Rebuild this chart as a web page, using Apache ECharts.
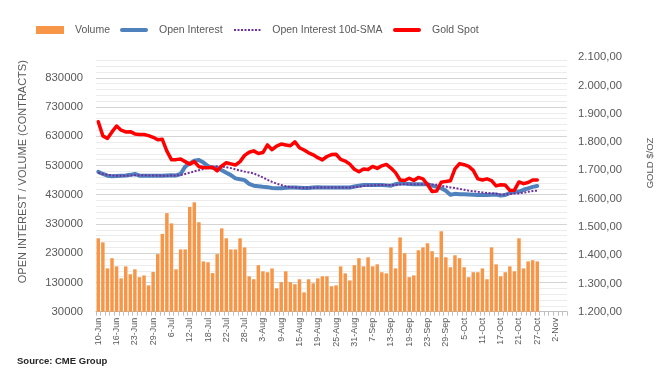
<!DOCTYPE html>
<html>
<head>
<meta charset="utf-8">
<script src="https://cdn.jsdelivr.net/npm/echarts@6/dist/echarts.min.js"></script>
<style>
html,body{margin:0;padding:0;background:#fff;}
#chart{width:667px;height:383px;}
</style>
</head>
<body>
<div id="chart"></div>
<script>
// Categories: trading days 2022
const categories = [
  '10-Jun','13-Jun','14-Jun','15-Jun','16-Jun','17-Jun','21-Jun','22-Jun','23-Jun','24-Jun','27-Jun','28-Jun','29-Jun','30-Jun',
  '1-Jul','5-Jul','6-Jul','7-Jul','8-Jul','11-Jul','12-Jul','13-Jul','14-Jul','15-Jul','18-Jul','19-Jul','20-Jul','21-Jul','22-Jul','25-Jul','26-Jul','27-Jul','28-Jul','29-Jul',
  '1-Aug','2-Aug','3-Aug','4-Aug','5-Aug','8-Aug','9-Aug','10-Aug','11-Aug','12-Aug','15-Aug','16-Aug','17-Aug','18-Aug','19-Aug','22-Aug','23-Aug','24-Aug','25-Aug','26-Aug','29-Aug','30-Aug','31-Aug',
  '1-Sep','2-Sep','6-Sep','7-Sep','8-Sep','9-Sep','12-Sep','13-Sep','14-Sep','15-Sep','16-Sep','19-Sep','20-Sep','21-Sep','22-Sep','23-Sep','26-Sep','27-Sep','28-Sep','29-Sep','30-Sep',
  '3-Oct','4-Oct','5-Oct','6-Oct','7-Oct','10-Oct','11-Oct','12-Oct','13-Oct','14-Oct','17-Oct','18-Oct','19-Oct','20-Oct','21-Oct','24-Oct','25-Oct','26-Oct','27-Oct','28-Oct','31-Oct',
  '1-Nov','2-Nov','3-Nov','4-Nov'
];

const volume = [
  281000,267000,178000,213000,185000,144000,185000,158000,175000,148000,
  154000,120000,166000,227000,296000,367000,332000,175000,243000,243000,
  388000,404000,336000,202000,199000,162000,227000,315000,281000,243000,
  243000,281000,250000,151000,141000,189000,168000,165000,178000,110000,
  131000,168000,131000,124000,141000,96000,141000,127000,144000,151000,
  151000,117000,120000,185000,161000,137000,189000,213000,185000,216000,
  185000,192000,165000,161000,250000,178000,284000,230000,148000,154000,
  240000,250000,264000,237000,216000,305000,216000,182000,223000,213000,
  182000,148000,165000,165000,178000,141000,250000,192000,151000,165000,
  185000,168000,281000,178000,202000,206000,202000
];

const openInterest = [
  508000,501000,495000,493000,494000,495000,496000,498000,501000,495000,
  495000,495000,495000,495000,495000,496000,497000,496000,501000,526000,
  537000,546000,549000,540000,528000,522000,522000,514000,505000,497000,
  486000,483000,480000,467000,461000,459000,457000,456000,453000,452000,
  452000,454000,455000,455000,454000,453000,453000,455000,456000,455000,
  455000,455000,455000,455000,455000,455000,458000,461000,463000,463000,
  463000,463000,463000,462000,461000,466000,469000,468000,467000,466000,
  466000,466000,466000,461000,457000,452000,444000,430000,433000,432000,
  432000,431000,430000,429000,429000,429000,430000,431000,427000,429000,
  436000,440000,441000,447000,452000,457000,460000
];

const openInterestSMA = [
  505000,501000,498000,496000,495000,495000,495000,496000,497000,497000,
  497000,496000,496000,496000,495000,495000,496000,496000,497000,501000,
  505000,510000,514000,518000,522000,526000,527000,526000,524000,521000,
  517000,513000,509000,506000,503000,496000,489000,481000,474000,468000,
  463000,459000,456000,455000,454000,454000,454000,454000,455000,455000,
  455000,455000,455000,455000,455000,455000,456000,458000,460000,462000,
  462000,463000,463000,463000,463000,464000,465000,466000,466000,466000,
  466000,466000,466000,465000,464000,460000,458000,455000,453000,450000,
  447000,444000,442000,440000,438000,436000,435000,433000,431000,431000,
  432000,434000,435000,437000,440000,443000,444000
];

const goldSpot = [
  1872,1822,1813,1836,1857,1842,1836,1837,1829,1827,
  1827,1823,1817,1808,1810,1768,1738,1738,1740,1731,
  1722,1731,1713,1710,1709,1711,1698,1716,1727,1723,
  1719,1731,1753,1764,1769,1760,1763,1790,1773,1786,
  1793,1790,1787,1801,1780,1772,1762,1755,1745,1737,
  1749,1756,1757,1739,1733,1722,1704,1695,1705,1703,
  1714,1707,1716,1721,1708,1692,1666,1664,1672,1664,
  1675,1670,1650,1625,1627,1658,1661,1663,1705,1724,
  1720,1714,1700,1670,1666,1670,1664,1645,1649,1648,
  1629,1630,1659,1653,1657,1666,1666
];

const leftMin = 30000, leftMax = 900000, leftStep = 20000, leftLabelStep = 100000;
const rightMin = 1200, rightMax = 2100, rightStep = 100;

const FONT = 'Liberation Sans';
const TXT = '#595959';

function fmtGold(v) {
  const parts = v.toFixed(2).split('.');
  const intPart = parts[0].replace(/\B(?=(\d{3})+(?!\d))/g, '.');
  return intPart + ',' + parts[1];
}

const ICON_LINE = 'path://M2,0 H26 A2,2 0 0 1 26,4 H2 A2,2 0 0 1 2,0 Z';
const ICON_DOTS = 'path://M0,0h2v2h-2z M3.5,0h2v2h-2z M7,0h2v2h-2z M10.5,0h2v2h-2z M14,0h2v2h-2z M17.5,0h2v2h-2z M21,0h2v2h-2z M24.5,0h2v2h-2z';

const chart = echarts.init(document.getElementById('chart'), null, {renderer: 'canvas'});

function legendAt(left, name, icon, h) {
  return {
    top: 24.5, left: left, padding: 0,
    itemWidth: 28, itemHeight: h,
    textStyle: {fontFamily: FONT, fontSize: 10.5, color: TXT, padding: [0, 0, 0, 6]},
    selectedMode: false,
    data: [{name: name, icon: icon}]
  };
}

chart.setOption({
  animation: false,
  backgroundColor: '#ffffff',
  legend: [
    legendAt(36, 'Volume', 'rect', 8),
    legendAt(120, 'Open Interest', ICON_LINE, 4),
    legendAt(234, 'Open Interest 10d-SMA', ICON_DOTS, 2),
    legendAt(393, 'Gold Spot', ICON_LINE, 4)
  ],
  grid: {left: 96, right: 100, top: 57.3, bottom: 71.3, containLabel: false, outerBoundsMode: 'none'},
  xAxis: {
    type: 'category',
    data: categories,
    boundaryGap: true,
    axisLine: {show: true, lineStyle: {color: '#bfbfbf', width: 1}},
    axisTick: {show: true, interval: 0, length: 4, lineStyle: {color: '#bfbfbf'}},
    axisLabel: {interval: 3, rotate: 90, margin: 6, fontFamily: FONT, fontSize: 9, color: TXT},
    splitLine: {show: false}
  },
  yAxis: [
    {
      type: 'value',
      min: leftMin, max: leftMax, interval: leftStep,
      axisLine: {show: false},
      axisTick: {show: false},
      axisLabel: {
        margin: 13, fontFamily: FONT, fontSize: 11.3, color: TXT,
        showMaxLabel: false,
        formatter: function (v) { return ((v - leftMin) % leftLabelStep === 0) ? String(v) : ''; }
      },
      splitLine: {
        show: true, showMaxLine: false,
        lineStyle: {color: ['#d4d4d4', '#ececec', '#ececec', '#ececec', '#ececec'], width: 1}
      }
    },
    {
      type: 'value',
      min: rightMin, max: rightMax, interval: rightStep,
      position: 'right',
      axisLine: {show: false},
      axisTick: {show: false},
      axisLabel: {margin: 11, fontFamily: FONT, fontSize: 11.3, color: TXT, formatter: fmtGold},
      splitLine: {show: false}
    }
  ],
  series: [
    {
      name: 'Volume', type: 'bar', data: volume, yAxisIndex: 0,
      barCategoryGap: '24%',
      itemStyle: {color: '#F79646'}
    },
    {
      name: 'Open Interest', type: 'line', data: openInterest, yAxisIndex: 0,
      symbol: 'none', showSymbol: false,
      lineStyle: {color: '#4F81BD', width: 4, cap: 'round', join: 'round'},
      itemStyle: {color: '#4F81BD'}
    },
    {
      name: 'Open Interest 10d-SMA', type: 'line', data: openInterestSMA, yAxisIndex: 0,
      symbol: 'none', showSymbol: false,
      lineStyle: {color: '#7030A0', width: 2, type: [2, 1.6]},
      itemStyle: {color: '#7030A0'}
    },
    {
      name: 'Gold Spot', type: 'line', data: goldSpot, yAxisIndex: 1,
      symbol: 'none', showSymbol: false,
      lineStyle: {color: '#FF0000', width: 3.5, cap: 'round', join: 'round'},
      itemStyle: {color: '#FF0000'}
    }
  ],
  graphic: [
    {
      type: 'text', x: 22.7, y: 171.7, rotation: Math.PI / 2,
      style: {text: 'OPEN INTEREST / VOLUME (CONTRACTS)', fontFamily: FONT, fontSize: 11, fill: TXT, align: 'center', verticalAlign: 'middle'}
    },
    {
      type: 'text', x: 650, y: 163, rotation: Math.PI / 2,
      style: {text: 'GOLD $/OZ', fontFamily: FONT, fontSize: 9.5, fill: TXT, align: 'center', verticalAlign: 'middle'}
    },
    {
      type: 'text', x: 17, y: 361.7,
      style: {text: 'Source: CME Group', fontFamily: FONT, fontSize: 9.5, fontWeight: 'bold', fill: '#262626', align: 'left', verticalAlign: 'middle'}
    }
  ]
});
</script>
</body>
</html>
